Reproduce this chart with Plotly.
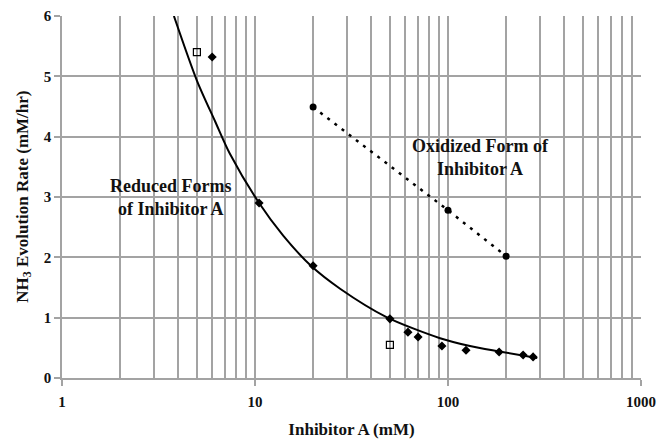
import plotly.graph_objects as go

# Reduced forms of inhibitor A (filled diamonds)
reduced_x = [6, 10.5, 20, 50, 62, 70, 93, 124, 184, 245, 276]
reduced_y = [5.32, 2.90, 1.86, 0.98, 0.76, 0.68, 0.53, 0.46, 0.43, 0.38, 0.35]

# Reduced form, alternate runs (open squares)
open_x = [5, 50]
open_y = [5.40, 0.55]

# Oxidized form of inhibitor A
oxid_x = [20, 100, 200]
oxid_y = [4.49, 2.78, 2.02]

# Trend curve through the reduced-form data
fit_x = [3.8, 5, 6.2, 7.4, 10.5, 14, 19.5, 27.6, 48, 91, 130, 184, 290]
fit_y = [6.0, 4.93, 4.26, 3.72, 2.90, 2.36, 1.86, 1.48, 1.01, 0.66, 0.53, 0.44, 0.33]

x_major = [1, 10, 100, 1000]
x_minor = [m * d for d in (1, 10, 100) for m in range(2, 10)]
y_ticks = [0, 1, 2, 3, 4, 5, 6]

serif = "Liberation Serif, Times New Roman, serif"
grid = "#a3a3a3"
ink = "#111111"

fig = go.Figure()

fig.add_trace(go.Scatter(
    x=fit_x, y=fit_y, mode="lines",
    line=dict(color="black", width=2, shape="spline", smoothing=0.8),
    hoverinfo="skip", showlegend=False,
))
fig.add_trace(go.Scatter(
    x=oxid_x, y=oxid_y, mode="lines+markers",
    line=dict(color="black", width=2.5, dash="3px,6px"),
    marker=dict(symbol="circle", size=7, color="black"),
    showlegend=False,
))
fig.add_trace(go.Scatter(
    x=reduced_x, y=reduced_y, mode="markers",
    marker=dict(symbol="diamond", size=7, color="black"),
    showlegend=False,
))
fig.add_trace(go.Scatter(
    x=open_x, y=open_y, mode="markers",
    marker=dict(symbol="square-open", size=7, color="black", line=dict(width=1.2)),
    showlegend=False,
))

fig.add_annotation(
    x=0.56, y=3.0, xref="x", yref="y",
    text="<b>Reduced Forms<br>of Inhibitor A</b>", showarrow=False,
    font=dict(family=serif, size=18, color=ink), align="center",
)
fig.add_annotation(
    x=2.166, y=3.65, xref="x", yref="y",
    text="<b>Oxidized Form of<br>Inhibitor A</b>", showarrow=False,
    font=dict(family=serif, size=18, color=ink), align="center",
)
# Y-axis title, rotated
fig.add_annotation(
    x=-0.066, y=0.5, xref="paper", yref="paper",
    xanchor="center", yanchor="middle", textangle=-90,
    text="<b>NH<sub>3</sub> Evolution Rate (mM/hr)</b>", showarrow=False,
    font=dict(family=serif, size=17, color=ink),
)

fig.update_xaxes(
    type="log", range=[0, 3], automargin=False,
    tickvals=x_major, ticktext=[f"<b>{v}</b>" for v in x_major],
    showgrid=True, gridcolor=grid, gridwidth=1.5,
    minor=dict(tickvals=x_minor, showgrid=True, gridcolor=grid, gridwidth=1.5, ticks=""),
    ticks="outside", ticklen=6, tickcolor=grid, tickwidth=1.5,
    ticklabelstandoff=3,
    showline=True, linecolor=grid, linewidth=1.5,
    tickfont=dict(family=serif, size=15, color=ink),
    title=dict(text="<b>Inhibitor A (mM)</b>", font=dict(family=serif, size=17, color=ink), standoff=14),
    zeroline=False,
)
fig.update_yaxes(
    range=[0, 6], tickvals=y_ticks, ticktext=[f"<b>{v}</b>" for v in y_ticks],
    automargin=False,
    showgrid=True, gridcolor=grid, gridwidth=1.5,
    ticks="outside", ticklen=6, tickcolor=grid, tickwidth=1.5,
    showline=True, linecolor=grid, linewidth=1.5,
    tickfont=dict(family=serif, size=15, color=ink),
    zeroline=False,
)

fig.update_layout(
    width=658, height=439,
    margin=dict(l=62, r=17, t=16, b=61),
    paper_bgcolor="white", plot_bgcolor="white",
)

fig.write_html("out.html")
